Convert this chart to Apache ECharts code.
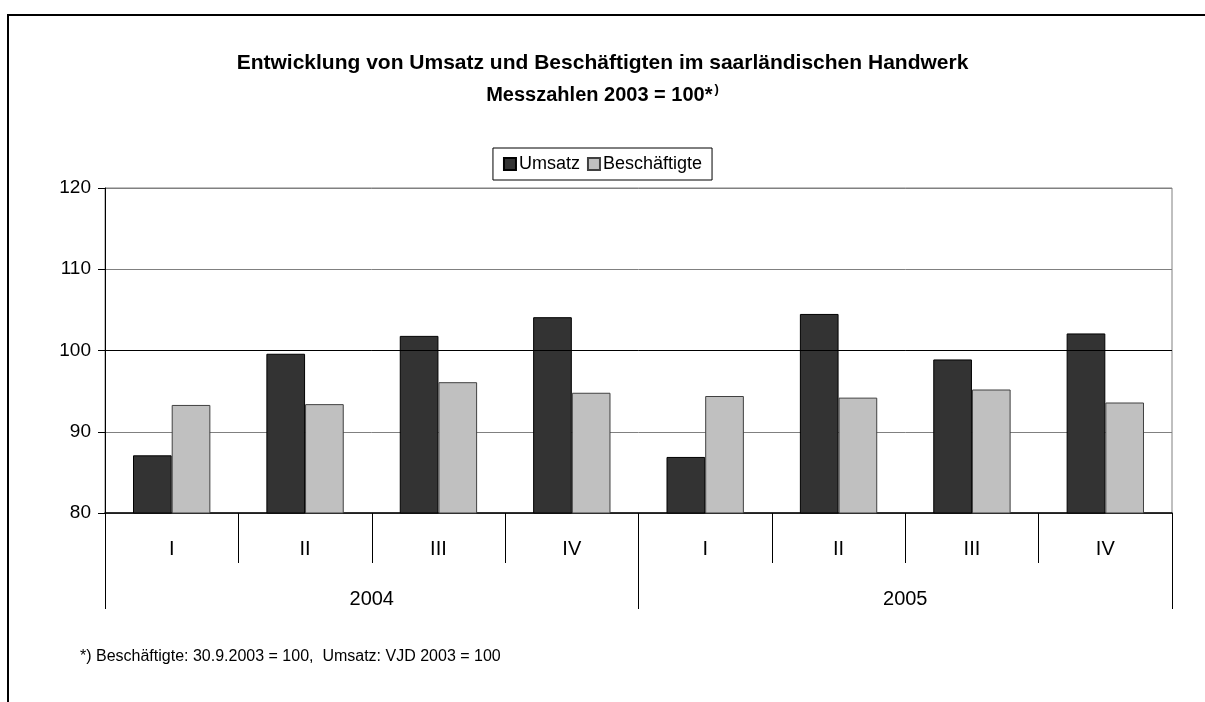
<!DOCTYPE html>
<html>
<head>
<meta charset="utf-8">
<script src="https://cdn.jsdelivr.net/npm/echarts@6/dist/echarts.min.js"></script>
<style>html,body{margin:0;padding:0;background:#fff}#c{width:1205px;height:702px}</style>
</head>
<body>
<div id="c"></div>
<script>
const quarters = ['I', 'II', 'III', 'IV', 'I', 'II', 'III', 'IV'];
const years = ['2004', '2005'];
const umsatz = [87.1, 99.6, 101.8, 104.1, 86.9, 104.5, 98.9, 102.1];
const beschaeftigte = [93.3, 93.4, 96.1, 94.8, 94.4, 94.2, 95.2, 93.6];
const yTicks = { min: 80, max: 120, interval: 10 };

const F = 'Liberation Sans, Arial, sans-serif';
const chart = echarts.init(document.getElementById('c'), null, { renderer: 'canvas' });
chart.setOption({
  backgroundColor: '#fff',
  animation: false,
  title: [
    { text: 'Entwicklung von Umsatz und Beschäftigten im saarländischen Handwerk', left: 'center', top: 48,
      textStyle: { fontFamily: F, fontSize: 21, fontWeight: 'bold', color: '#000' } },
    { text: '{a|Messzahlen 2003 = 100*}{s|)}', left: 'center', top: 78,
      textStyle: { rich: {
        a: { fontFamily: F, fontSize: 20, fontWeight: 'bold', color: '#000', lineHeight: 24 },
        s: { fontFamily: F, fontSize: 13, fontWeight: 'bold', color: '#000', verticalAlign: 'top', lineHeight: 24, padding: [0, 0, 0, 2] }
      } } }
  ],
  legend: {
    data: ['Umsatz', 'Beschäftigte'], left: 'center', top: 148,
    borderColor: '#000', borderWidth: 1, padding: [7, 10, 7, 10], itemGap: 7,
    itemWidth: 12, itemHeight: 12, icon: 'rect',
    textStyle: { fontFamily: F, fontSize: 18, color: '#000', padding: [0, 0, 0, -2] }
  },
  grid: { left: 105, right: 33, top: 188, bottom: 189, show: true, borderColor: '#808080', borderWidth: 1 },
  xAxis: [
    { type: 'category', data: quarters, position: 'bottom',
      axisLine: { lineStyle: { color: '#000', width: 1.5 } },
      axisTick: { show: true, interval: 0, length: 50, lineStyle: { color: '#000' } },
      axisLabel: { interval: 0, margin: 26, fontFamily: F, fontSize: 20, color: '#000' } },
    { type: 'category', data: years, position: 'bottom', gridIndex: 0,
      axisLine: { show: false },
      axisTick: { show: true, interval: 0, length: 96, lineStyle: { color: '#000' } },
      axisLabel: { interval: 0, margin: 76, fontFamily: F, fontSize: 20, color: '#000' } }
  ],
  yAxis: {
    type: 'value', min: yTicks.min, max: yTicks.max, interval: yTicks.interval,
    axisLine: { show: true, lineStyle: { color: '#000' } },
    axisTick: { show: true, length: 7, lineStyle: { color: '#000' } },
    axisLabel: { margin: 14, fontFamily: F, fontSize: 19, color: '#000' },
    splitLine: { lineStyle: { color: '#808080', width: 1 } }
  },
  series: [
    { name: 'Umsatz', type: 'bar', data: umsatz, xAxisIndex: 0, barWidth: '29%', barGap: '0%',
      itemStyle: { color: '#333333', borderColor: '#000', borderWidth: 1 },
      markLine: { silent: true, symbol: 'none', label: { show: false },
        lineStyle: { color: '#000', width: 1, type: 'solid' }, data: [{ yAxis: 100 }] } },
    { name: 'Beschäftigte', type: 'bar', data: beschaeftigte, xAxisIndex: 0, barWidth: '29%', barGap: '0%',
      itemStyle: { color: '#c0c0c0', borderColor: '#404040', borderWidth: 1 } }
  ],
  graphic: [
    { type: 'rect', silent: true, shape: { x: 8, y: 15, width: 1400, height: 900 },
      style: { fill: 'none', stroke: '#000', lineWidth: 2 } },
    { type: 'text', left: 80, top: 649,
      style: { text: '*) Beschäftigte: 30.9.2003 = 100,  Umsatz: VJD 2003 = 100', fontFamily: F, fontSize: 16, fill: '#000' } }
  ]
});
</script>
</body>
</html>
